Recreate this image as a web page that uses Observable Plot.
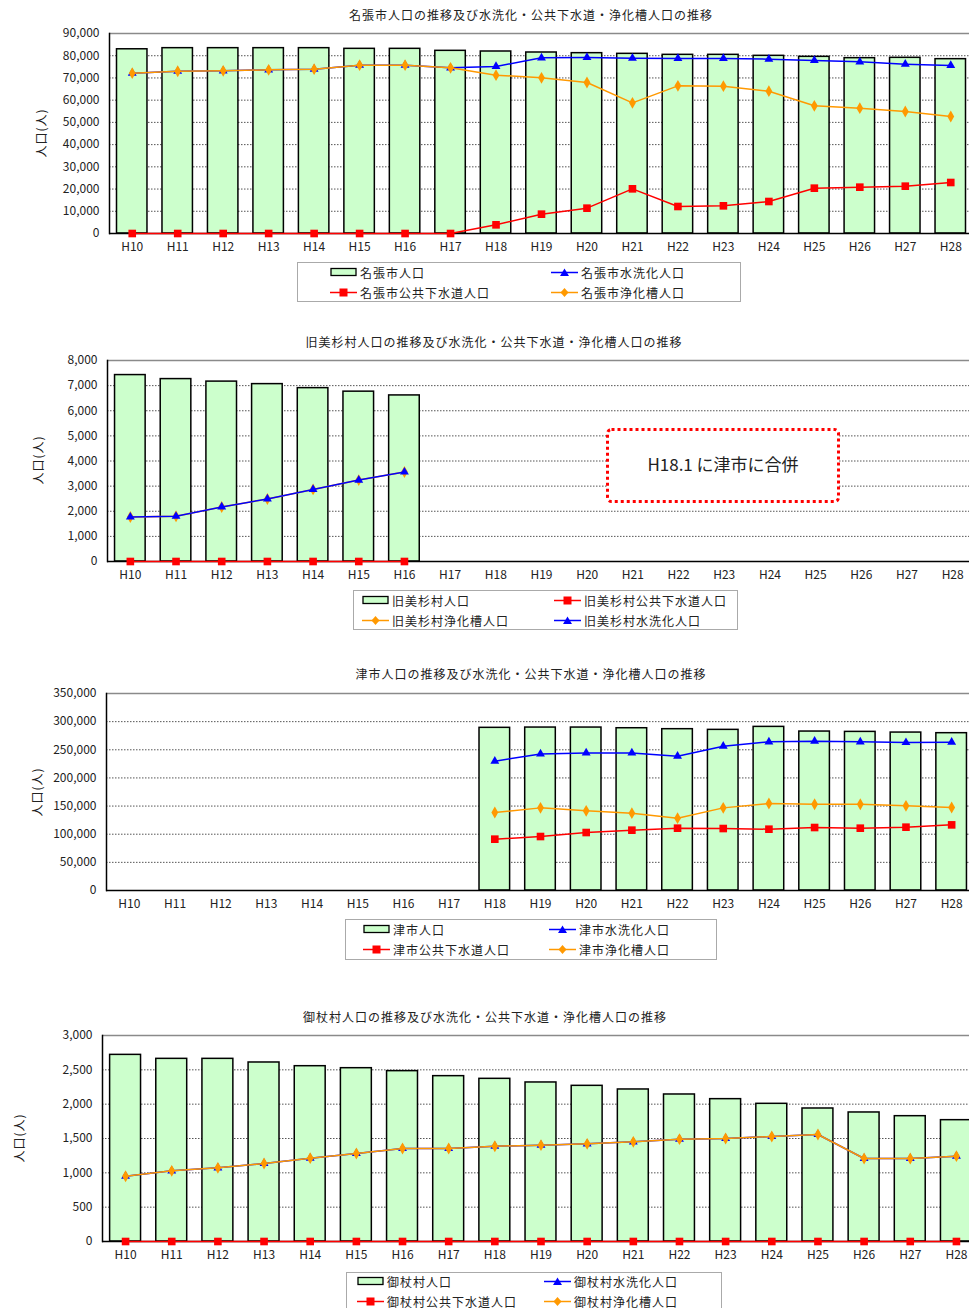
<!DOCTYPE html>
<html><head><meta charset="utf-8">
<script src="https://cdn.jsdelivr.net/npm/d3@7"></script>
<script src="https://cdn.jsdelivr.net/npm/@observablehq/plot@0.6"></script>
<style>
body{margin:0;background:#fff;font-family:"Noto Sans CJK JP",sans-serif;}
#root{position:relative;width:969px;height:1308px;overflow:hidden;}
.chart{position:absolute;left:0;width:990px;}
.chart svg{max-width:none !important;}
.title{position:absolute;font-size:12px;letter-spacing:1px;white-space:nowrap;transform:translate(-50%,-50%);color:#222;}
.ylab{position:absolute;font-size:12px;white-space:nowrap;transform:translate(-50%,-50%) rotate(-90deg);letter-spacing:1px;color:#222;}
.legend{position:absolute;border:1px solid #aaa;background:#fff;box-sizing:border-box;}
.li{position:absolute;font-size:12px;letter-spacing:1px;white-space:nowrap;display:flex;align-items:center;height:16px;color:#222;}
.li svg{margin-right:3px;}
.note{position:absolute;}
</style>
</head><body><div id="root"></div>
<script>
// ---- data ----
const years = ["H10","H11","H12","H13","H14","H15","H16","H17","H18","H19","H20","H21","H22","H23","H24","H25","H26","H27","H28"];

// 名張市 (H10–H28)
const nabariPop    = [82900,83400,83400,83400,83400,83100,83100,82200,81900,81450,81150,80850,80400,80400,79950,79500,78900,79050,78450];
const nabariFlush  = [72150,73000,73200,73650,73950,75750,75750,74550,75150,79050,79200,78900,78750,78750,78450,77850,77250,76200,75600];
const nabariSewer  = [0,0,0,0,0,0,0,0,3900,8700,11400,20100,12150,12450,14400,20400,20850,21300,22950];
const nabariSeptic = [72150,73000,73200,73650,73950,75750,75750,74550,71250,70050,67950,58800,66450,66300,64050,57450,56400,54900,52650];

// 旧美杉村 (H10–H16)
const misugiYears  = ["H10","H11","H12","H13","H14","H15","H16"];
const misugiPop    = [7420,7260,7160,7060,6900,6760,6610];
const misugiSewer  = [0,0,0,0,0,0,0];
const misugiSeptic = [1770,1800,2170,2490,2870,3240,3560];
const misugiFlush  = [1770,1800,2170,2490,2870,3240,3560];

// 津市 (H18–H28)
const tsuYears  = ["H18","H19","H20","H21","H22","H23","H24","H25","H26","H27","H28"];
const tsuPop    = [289000,289500,289500,288300,286600,285400,290700,282400,281800,280600,279500];
const tsuFlush  = [229700,242700,244500,244500,238600,256400,264100,265200,264100,262900,263500];
const tsuSewer  = [91200,95900,103000,107200,110700,110100,108900,111900,110700,112500,116600];
const tsuSeptic = [138500,146800,141500,137400,128500,146800,154500,153300,153300,150400,147400];

// 御杖村 (H10–H28)
const mitsuePop    = [2718,2660,2660,2607,2553,2524,2481,2408,2369,2316,2267,2214,2141,2073,2005,1937,1879,1825,1767];
const mitsueFlush  = [951,1029,1073,1136,1214,1282,1354,1354,1388,1403,1422,1451,1490,1500,1529,1558,1209,1209,1243];
const mitsueSewer  = [0,0,0,0,0,0,0,0,0,0,0,0,0,0,0,0,0,0,0];
const mitsueSeptic = [951,1029,1073,1136,1214,1282,1354,1354,1388,1403,1422,1451,1490,1500,1529,1558,1209,1209,1243];

const COLORS = {bar:"#CCFFCC", flush:"#0000FF", sewer:"#FF0000", septic:"#FF9900"};
const SYMBOL = {flush:"triangle", sewer:"square", septic:"diamond"};
const RAD = {flush:3.3, sewer:4.3, septic:3.6};

const rows = (yrs, vals) => yrs.map((y,i)=>({year:y, value:vals[i]}));
const root = document.getElementById("root");

function chart(cfg){
  const {top, plotH, mLeft, right, yMax, yStep, barYears, barVals, series} = cfg;
  const mTop = 10, mBottom = 26;
  const width = right + 3;
  const marks = [
    Plot.ruleY(d3.range(yStep, yMax, yStep), {stroke:"#555", strokeDasharray:"1.5,1.5", strokeWidth:1}),
    Plot.ruleY([yMax], {stroke:"#8a8a8a", strokeWidth:1.6}),
    Plot.barY(rows(barYears, barVals), {x:"year", y:"value", fill:COLORS.bar, stroke:"#000", strokeWidth:1.5}),
    Plot.ruleY([0], {stroke:"#000", strokeWidth:1.5}),
    Plot.frame({anchor:"left", stroke:"#000", strokeWidth:1.5})
  ];
  for (const s of series){
    const d = rows(s.years, s.values);
    marks.push(Plot.line(d, {x:"year", y:"value", stroke:COLORS[s.kind], strokeWidth:1.5}));
    marks.push(Plot.dot(d, {x:"year", y:"value", symbol:SYMBOL[s.kind], fill:COLORS[s.kind], stroke:"none", r:RAD[s.kind]}));
  }
  const svg = Plot.plot({
    width, height: mTop + plotH + mBottom,
    marginTop: mTop, marginBottom: mBottom, marginLeft: mLeft, marginRight: 3,
    style:{fontSize:"12px", fontFamily:'"Noto Sans CJK JP", sans-serif', color:"#222", background:"transparent", overflow:"visible", maxWidth:"none"},
    x:{domain: years, paddingInner:0.33, paddingOuter:0.165, round:false, label:null, tickSize:0, tickPadding:9},
    y:{domain:[0,yMax], ticks: d3.range(0, yMax+1, yStep), tickFormat: d3.format(","), tickSize:0, tickPadding:10, label:null},
    marks
  });
  svg.style.maxWidth = "none";
  const div = document.createElement("div");
  div.className = "chart";
  div.style.top = (top - mTop) + "px";
  div.appendChild(svg);
  root.appendChild(div);
}

function addText(cls, text, x, y){
  const d = document.createElement("div");
  d.className = cls; d.textContent = text;
  d.style.left = x + "px"; d.style.top = y + "px";
  root.appendChild(d);
}

function swatch(kind){
  if (kind === "bar") return `<svg width="27" height="10"><rect x="1" y="1.5" width="25" height="7" fill="${COLORS.bar}" stroke="#000" stroke-width="1.3"/></svg>`;
  const c = COLORS[kind];
  let m = "";
  if (kind === "sewer") m = `<rect x="9.5" y="1.5" width="8" height="8" fill="${c}"/>`;
  if (kind === "flush") m = `<path d="M13.5,1.5 L18,9 L9,9 Z" fill="${c}"/>`;
  if (kind === "septic") m = `<path d="M13.5,1 L17.5,5.5 L13.5,10 L9.5,5.5 Z" fill="${c}"/>`;
  return `<svg width="27" height="11"><line x1="0" y1="5.5" x2="27" y2="5.5" stroke="${c}" stroke-width="1.5"/>${m}</svg>`;
}

function legend(box, items){
  const b = document.createElement("div");
  b.className = "legend";
  Object.assign(b.style, {left:box[0]+"px", top:box[1]+"px", width:box[2]+"px", height:box[3]+"px"});
  root.appendChild(b);
  for (const it of items){
    const d = document.createElement("div");
    d.className = "li";
    d.style.left = it[0] + "px"; d.style.top = (it[1]-8) + "px";
    d.innerHTML = swatch(it[2]) + `<span>${it[3]}</span>`;
    root.appendChild(d);
  }
}

// ---- Chart 1: 名張市 ----
addText("title", "名張市人口の推移及び水洗化・公共下水道・浄化槽人口の推移", 531, 14);
chart({top:33, plotH:200, mLeft:109, right:973, yMax:90000, yStep:10000, barYears:years, barVals:nabariPop,
  series:[{kind:"sewer", years, values:nabariSewer},{kind:"flush", years, values:nabariFlush},{kind:"septic", years, values:nabariSeptic}]});
addText("ylab", "人口(人)", 40, 133);
legend([297,262,444,40], [[330,272,"bar","名張市人口"],[551,272,"flush","名張市水洗化人口"],[330,292,"sewer","名張市公共下水道人口"],[551,292,"septic","名張市浄化槽人口"]]);

// ---- Chart 2: 旧美杉村 ----
addText("title", "旧美杉村人口の推移及び水洗化・公共下水道・浄化槽人口の推移", 494, 341);
chart({top:360, plotH:201, mLeft:107, right:975, yMax:8000, yStep:1000, barYears:misugiYears, barVals:misugiPop,
  series:[{kind:"sewer", years:misugiYears, values:misugiSewer},{kind:"septic", years:misugiYears, values:misugiSeptic},{kind:"flush", years:misugiYears, values:misugiFlush}]});
addText("ylab", "人口(人)", 37, 460);
legend([353,590,385,40], [[362,600,"bar","旧美杉村人口"],[554,600,"sewer","旧美杉村公共下水道人口"],[362,620,"septic","旧美杉村浄化槽人口"],[554,620,"flush","旧美杉村水洗化人口"]]);
{
  const n = document.createElement("div");
  n.className = "note";
  Object.assign(n.style, {left:"606px", top:"428px", width:"234px", height:"75px"});
  n.innerHTML = `<svg width="234" height="75"><rect x="1.5" y="1.5" width="231" height="72" rx="4" fill="#fff" stroke="#FF0000" stroke-width="3" stroke-dasharray="3,3"/><text x="117" y="38" text-anchor="middle" dominant-baseline="middle" font-size="17" font-family="Noto Sans CJK JP, sans-serif" fill="#222">H18.1 に津市に合併</text></svg>`;
  root.appendChild(n);
}

// ---- Chart 3: 津市 ----
addText("title", "津市人口の推移及び水洗化・公共下水道・浄化槽人口の推移", 531, 673);
chart({top:693, plotH:197, mLeft:106, right:974, yMax:350000, yStep:50000, barYears:tsuYears, barVals:tsuPop,
  series:[{kind:"sewer", years:tsuYears, values:tsuSewer},{kind:"flush", years:tsuYears, values:tsuFlush},{kind:"septic", years:tsuYears, values:tsuSeptic}]});
addText("ylab", "人口(人)", 36, 792);
legend([345,919,372,41], [[363,929,"bar","津市人口"],[549,929,"flush","津市水洗化人口"],[363,949,"sewer","津市公共下水道人口"],[549,949,"septic","津市浄化槽人口"]]);

// ---- Chart 4: 御杖村 ----
addText("title", "御杖村人口の推移及び水洗化・公共下水道・浄化槽人口の推移", 485, 1016);
chart({top:1035, plotH:206, mLeft:102, right:979, yMax:3000, yStep:500, barYears:years, barVals:mitsuePop,
  series:[{kind:"sewer", years, values:mitsueSewer},{kind:"flush", years, values:mitsueFlush},{kind:"septic", years, values:mitsueSeptic}]});
addText("ylab", "人口(人)", 18, 1138);
legend([346,1272,376,44], [[357,1281,"bar","御杖村人口"],[544,1281,"flush","御杖村水洗化人口"],[357,1301,"sewer","御杖村公共下水道人口"],[544,1301,"septic","御杖村浄化槽人口"]]);
</script>
</body></html>
